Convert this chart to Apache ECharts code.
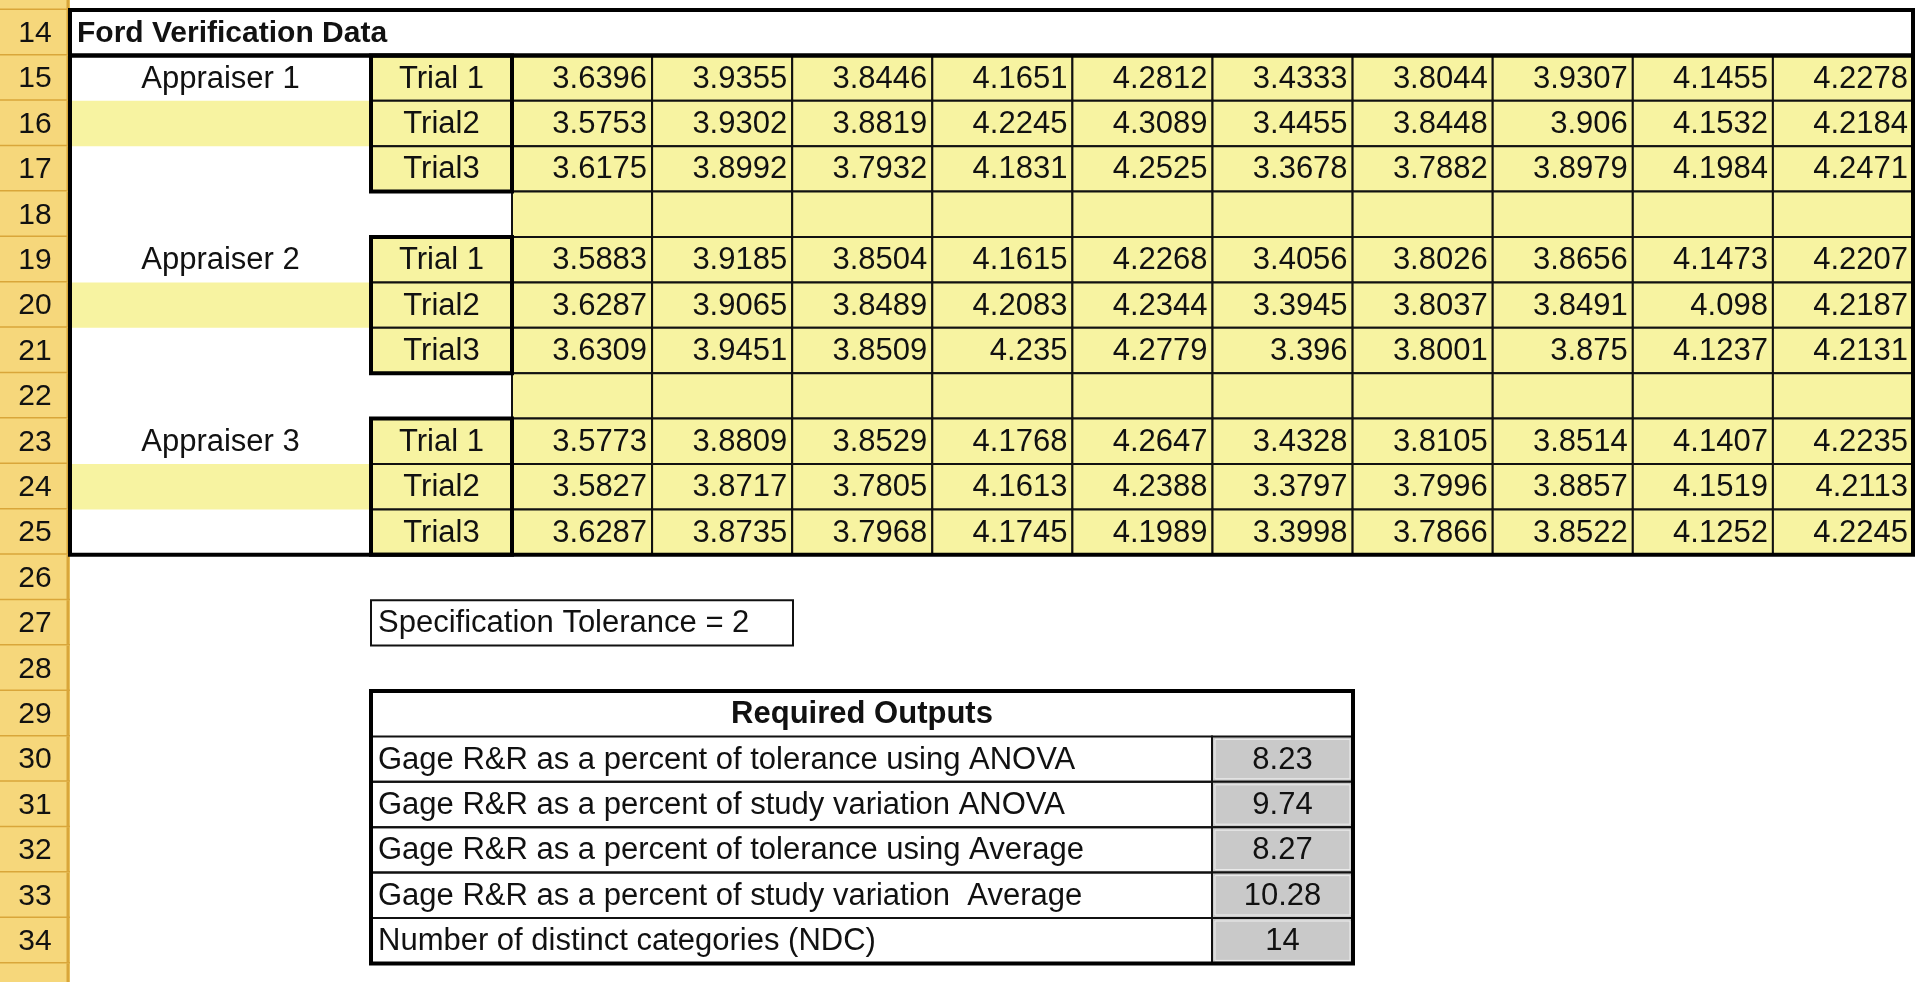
<!DOCTYPE html>
<html>
<head>
<meta charset="utf-8">
<script src="https://cdn.jsdelivr.net/npm/echarts@6/dist/echarts.min.js"></script>
<style>html,body{margin:0;padding:0;background:#fff}#main{width:1920px;height:982px}</style>
</head>
<body>
<div id="main"></div>
<script>
// 数据
var title = 'Ford Verification Data';
var appraisers = ['Appraiser 1', 'Appraiser 2', 'Appraiser 3'];
var trials = ['Trial 1', 'Trial2', 'Trial3'];
var appraiser1 = [
  ['3.6396', '3.9355', '3.8446', '4.1651', '4.2812', '3.4333', '3.8044', '3.9307', '4.1455', '4.2278'],
  ['3.5753', '3.9302', '3.8819', '4.2245', '4.3089', '3.4455', '3.8448', '3.906', '4.1532', '4.2184'],
  ['3.6175', '3.8992', '3.7932', '4.1831', '4.2525', '3.3678', '3.7882', '3.8979', '4.1984', '4.2471']
];
var appraiser2 = [
  ['3.5883', '3.9185', '3.8504', '4.1615', '4.2268', '3.4056', '3.8026', '3.8656', '4.1473', '4.2207'],
  ['3.6287', '3.9065', '3.8489', '4.2083', '4.2344', '3.3945', '3.8037', '3.8491', '4.098', '4.2187'],
  ['3.6309', '3.9451', '3.8509', '4.235', '4.2779', '3.396', '3.8001', '3.875', '4.1237', '4.2131']
];
var appraiser3 = [
  ['3.5773', '3.8809', '3.8529', '4.1768', '4.2647', '3.4328', '3.8105', '3.8514', '4.1407', '4.2235'],
  ['3.5827', '3.8717', '3.7805', '4.1613', '4.2388', '3.3797', '3.7996', '3.8857', '4.1519', '4.2113'],
  ['3.6287', '3.8735', '3.7968', '4.1745', '4.1989', '3.3998', '3.7866', '3.8522', '4.1252', '4.2245']
];
var specText = 'Specification Tolerance = 2';
var outputsTitle = 'Required Outputs';
var outputLabels = [
  'Gage R&R as a percent of tolerance using ANOVA',
  'Gage R&R as a percent of study variation ANOVA',
  'Gage R&R as a percent of tolerance using Average',
  'Gage R&R as a percent of study variation  Average',
  'Number of distinct categories (NDC)'
];
var outputValues = ['8.23', '9.74', '8.27', '10.28', '14'];
var rowNumbers = [];
for (var r = 13; r <= 35; r++) rowNumbers.push(r);

// 版式
var W = 1920, H = 982;
var rowTop0 = 10, rowH = 45.4;           // 第14行顶部
var hdrW = 70;
var colEdges = [70, 371, 512];
for (var c = 1; c <= 10; c++) colEdges.push(512 + c * 140.1);
var YEL = '#f7f3a1', HDR = '#f6d77b', GRY = '#c9c9c9';
var FONT = '"Liberation Sans", Arial, sans-serif';
function rowTopOf(row) { return rowTop0 + (row - 14) * rowH; }

var cells = [];
function cell(x0, x1, row, text, o) {
  o = o || {};
  cells.push({x0: x0, x1: x1, row: row, text: text, align: o.align || 'center',
    fill: o.fill || null, bold: !!o.bold, border: o.border || 0, size: o.size || 31, color: o.color || '#111'});
}

// 行号
rowNumbers.forEach(function (n) {
  cell(0, hdrW, n, (n >= 14 && n <= 34) ? String(n) : '', {fill: HDR, border: -1, size: 30});
});
cell(hdrW, colEdges[12], 14, title, {align: 'left', bold: true, size: 30});
[appraiser1, appraiser2, appraiser3].forEach(function (block, b) {
  var r0 = 15 + b * 4;
  cell(colEdges[0], colEdges[1], r0, appraisers[b]);
  cell(colEdges[0], colEdges[1], r0 + 1, '', {fill: YEL});
  block.forEach(function (vals, t) {
    cell(colEdges[1], colEdges[2], r0 + t, trials[t], {fill: YEL, border: 1});
    vals.forEach(function (v, k) {
      cell(colEdges[2 + k], colEdges[3 + k], r0 + t, v, {fill: YEL, border: 1, align: 'right'});
    });
  });
  if (b < 2) {
    for (var k = 0; k < 10; k++) cell(colEdges[2 + k], colEdges[3 + k], r0 + 3, '', {fill: YEL, border: 1});
  }
});
cell(371, 793, 27, specText, {align: 'left', border: 1});
cell(371, 1353, 29, outputsTitle, {bold: true});
outputLabels.forEach(function (lab, i) {
  cell(371, 1212, 30 + i, lab, {align: 'left', border: 1});
  cell(1212, 1353, 30 + i, outputValues[i], {fill: GRY, border: 2});
});

// 粗边框
var frames = [
  {x0: hdrW, x1: colEdges[12], r0: 14, r1: 14},
  {x0: hdrW, x1: colEdges[12], r0: 15, r1: 25},
  {x0: colEdges[1], x1: colEdges[2], r0: 15, r1: 17},
  {x0: colEdges[1], x1: colEdges[2], r0: 19, r1: 21},
  {x0: colEdges[1], x1: colEdges[2], r0: 23, r1: 25},
  {x0: 371, x1: 1353, r0: 29, r1: 34}
];

var chart = echarts.init(document.getElementById('main'));
chart.setOption({
  animation: false,
  grid: {left: 0, right: 0, top: 0, bottom: 0},
  xAxis: {type: 'value', min: 0, max: W, show: false},
  yAxis: {type: 'value', min: 0, max: H, inverse: true, show: false},
  series: [{
    type: 'custom',
    coordinateSystem: 'cartesian2d',
    data: cells.map(function (c, i) { return [c.x0, rowTopOf(c.row), c.x1, rowTopOf(c.row + 1), i]; }),
    renderItem: function (params, api) {
      var c = cells[api.value(4)];
      var p0 = api.coord([api.value(0), api.value(1)]);
      var p1 = api.coord([api.value(2), api.value(3)]);
      var w = p1[0] - p0[0], h = p1[1] - p0[1];
      var kids = [];
      if (c.fill) kids.push({type: 'rect', shape: {x: p0[0], y: p0[1], width: w, height: h}, style: {fill: c.fill}});
      if (c.border === 1 || c.border === 2) {
        kids.push({type: 'rect', shape: {x: p0[0], y: p0[1], width: w, height: h},
          style: {fill: null, stroke: '#111', lineWidth: 2}});
      }
      if (c.border === 2) {
        kids.push({type: 'rect', shape: {x: p0[0] + 3, y: p0[1] + 3, width: w - 6, height: h - 6},
          style: {fill: null, stroke: '#eee', lineWidth: 1}});
      }
      if (c.border === -1) {
        kids.push({type: 'line', shape: {x1: p0[0], y1: p1[1], x2: p1[0], y2: p1[1]}, style: {stroke: '#d9a63a', lineWidth: 3}});
        kids.push({type: 'line', shape: {x1: p1[0] - 2, y1: p0[1], x2: p1[0] - 2, y2: p1[1]}, style: {stroke: '#d9a63a', lineWidth: 3}});
      }
      var tx = c.align === 'left' ? p0[0] + 7 : c.align === 'right' ? p1[0] - 5 : (p0[0] + p1[0]) / 2;
      kids.push({type: 'text', style: {x: tx, y: (p0[1] + p1[1]) / 2 + 1, text: c.text, fill: c.color,
        font: (c.bold ? 'bold ' : '') + c.size + 'px ' + FONT, align: c.align, verticalAlign: 'middle'}});
      return {type: 'group', children: kids};
    }
  }, {
    type: 'custom',
    coordinateSystem: 'cartesian2d',
    data: frames.map(function (f) { return [f.x0, rowTopOf(f.r0), f.x1, rowTopOf(f.r1 + 1)]; }),
    renderItem: function (params, api) {
      var p0 = api.coord([api.value(0), api.value(1)]);
      var p1 = api.coord([api.value(2), api.value(3)]);
      return {type: 'rect', shape: {x: p0[0], y: p0[1], width: p1[0] - p0[0], height: p1[1] - p0[1]},
        style: {fill: null, stroke: '#000', lineWidth: 4}};
    }
  }]
});
</script>
</body>
</html>
